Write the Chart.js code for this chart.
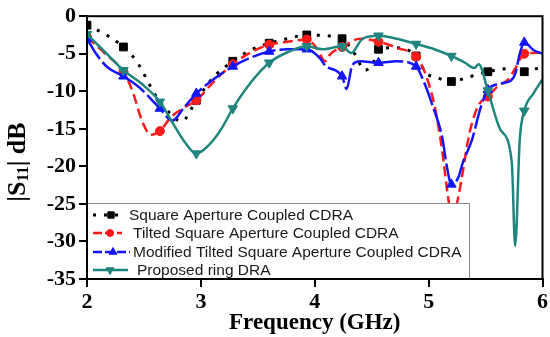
<!DOCTYPE html>
<html>
<head>
<meta charset="utf-8">
<script src="https://cdn.jsdelivr.net/npm/chart.js@4.4.1/dist/chart.umd.min.js"></script>
<style>
  html, body { margin: 0; padding: 0; background: #fff; }
  #wrap { width: 550px; height: 337px; position: relative; }
</style>
</head>
<body>
<div id="wrap"><canvas id="c" width="550" height="337"></canvas></div>
<script>
// Return loss |S11| (dB) versus frequency (GHz) for four antenna designs
const seriesNames = [
  'Square Aperture Coupled CDRA',
  'Tilted Square Aperture Coupled CDRA',
  'Modified Tilted Square Aperture Coupled CDRA',
  'Proposed ring DRA'
];

const squareFreq = [2.00, 2.16, 2.32, 2.44, 2.60, 2.72, 2.83, 2.96, 3.10, 3.28, 3.44, 3.60, 3.76, 3.93, 4.10, 4.24, 4.35, 4.44, 4.52, 4.56, 4.72, 4.89, 4.98, 5.06, 5.20, 5.35, 5.52, 5.70, 5.84, 6.00];
const squareS11  = [-1.2, -2.4, -4.1, -6.1, -10.5, -12.8, -14.0, -11.2, -8.3, -6.0, -4.5, -3.6, -3.0, -2.5, -2.6, -3.0, -5.0, -7.2, -6.0, -4.4, -4.2, -5.3, -7.6, -8.1, -8.7, -8.1, -7.4, -7.0, -7.4, -6.7];

const tiltedFreq = [2.00, 2.16, 2.32, 2.40, 2.48, 2.56, 2.64, 2.74, 2.85, 2.96, 3.12, 3.28, 3.44, 3.60, 3.76, 3.93, 4.02, 4.09, 4.14, 4.24, 4.40, 4.56, 4.72, 4.89, 4.98, 5.06, 5.12, 5.17, 5.20, 5.24, 5.28, 5.36, 5.44, 5.52, 5.61, 5.70, 5.76, 5.84, 5.92, 6.00];
const tiltedS11  = [-2.8, -5.0, -7.4, -10.0, -13.8, -15.8, -15.3, -13.4, -12.2, -11.2, -8.6, -6.4, -4.8, -3.8, -3.4, -3.1, -4.3, -6.0, -5.0, -4.1, -3.0, -3.4, -4.2, -5.4, -8.0, -12.5, -18.0, -24.0, -26.5, -25.5, -22.5, -15.5, -11.8, -10.7, -9.3, -8.4, -7.0, -5.0, -4.9, -4.8];

const modifiedFreq = [2.00, 2.08, 2.18, 2.32, 2.46, 2.56, 2.64, 2.75, 2.85, 2.96, 3.12, 3.28, 3.44, 3.60, 3.76, 3.93, 4.04, 4.10, 4.18, 4.24, 4.28, 4.33, 4.40, 4.56, 4.72, 4.89, 4.96, 5.03, 5.12, 5.16, 5.20, 5.26, 5.30, 5.38, 5.46, 5.52, 5.62, 5.72, 5.76, 5.80, 5.84, 5.92, 6.00];
const modifiedS11  = [-3.0, -5.0, -6.8, -8.0, -9.5, -11.0, -12.3, -13.9, -12.2, -10.3, -8.3, -6.7, -5.5, -4.7, -4.4, -4.4, -5.5, -6.7, -7.2, -8.0, -9.7, -6.5, -6.0, -6.2, -6.0, -6.7, -8.8, -11.7, -16.2, -20.0, -22.4, -21.5, -19.5, -16.5, -12.0, -9.8, -9.0, -8.6, -7.7, -5.0, -3.5, -4.5, -5.0];

const ringFreq = [2.00, 2.16, 2.32, 2.48, 2.64, 2.76, 2.86, 2.96, 3.08, 3.18, 3.28, 3.44, 3.60, 3.76, 3.93, 4.07, 4.24, 4.32, 4.42, 4.56, 4.72, 4.89, 5.05, 5.20, 5.32, 5.40, 5.44, 5.52, 5.63, 5.73, 5.76, 5.80, 5.84, 5.92, 6.00];
const ringS11  = [-2.4, -4.8, -7.2, -9.0, -11.4, -14.4, -16.8, -18.3, -17.0, -15.0, -12.3, -8.8, -6.2, -4.8, -4.0, -4.4, -4.0, -4.9, -3.0, -2.6, -3.0, -3.7, -4.4, -5.3, -6.2, -6.9, -6.4, -9.9, -15.1, -19.4, -30.6, -16.5, -12.6, -10.3, -8.4];

// frequencies at which symbols are placed along each trace
const markerFreq = [2.00, 2.32, 2.64, 2.96, 3.28, 3.60, 3.93, 4.24, 4.56, 4.89, 5.20, 5.52, 5.84];

const xTicks = [2, 3, 4, 5, 6];
const yTicks = [0, -5, -10, -15, -20, -25, -30, -35];

const toPoints = (fs, vs) => fs.map((f, i) => ({ x: f, y: vs[i] }));

const styles = [
  { color: '#000000', dash: [3, 8], width: 3, point: 'rect', radius: 5.5, rotation: 0, order: 3 },
  { color: '#ff1a1a', dash: [10, 5], width: 2.5, point: 'circle', radius: 4.5, rotation: 0, order: 2 },
  { color: '#1414ff', dash: [24, 4], width: 2.5, point: 'triangle', radius: 5.5, rotation: 0, order: 1 },
  { color: '#1f857f', dash: [], width: 2.5, point: 'triangle', radius: 5.5, rotation: 180, order: 0 }
];

const seriesData = [
  toPoints(squareFreq, squareS11),
  toPoints(tiltedFreq, tiltedS11),
  toPoints(modifiedFreq, modifiedS11),
  toPoints(ringFreq, ringS11)
];

const datasets = seriesData.map((pts, i) => {
  const s = styles[i];
  return {
    label: seriesNames[i],
    data: pts,
    borderColor: s.color,
    backgroundColor: s.color,
    borderWidth: s.width,
    borderDash: s.dash,
    cubicInterpolationMode: 'monotone',
    pointStyle: s.point,
    rotation: s.rotation,
    pointBorderWidth: 1,
    pointRadius: ctx => (ctx.raw && markerFreq.includes(ctx.raw.x)) ? s.radius : 0,
    pointHoverRadius: 0,
    order: s.order
  };
});

const serifBold = { family: "'Liberation Serif', 'Times New Roman', serif", weight: 'bold' };

// Legend box in the lower-left corner of the plot, plus the closed frame
const legendFrame = {
  id: 'legendFrame',
  afterDatasetsDraw(chart) {
    const { ctx, chartArea: a } = chart;
    ctx.save();
    const bx = a.left, by = 203, bw = 470 - a.left, bh = a.bottom - 203;
    ctx.fillStyle = '#ffffff';
    ctx.fillRect(bx, by, bw, bh);
    ctx.strokeStyle = '#8c8c8c';
    ctx.lineWidth = 1;
    ctx.strokeRect(bx + 0.5, by + 0.5, bw - 1, bh - 1);

    const rows = [215, 233, 252, 270];
    const textX = [129, 133, 133, 137];
    const lineEnd = [122, 122, 130, 128];
    const markX = [111, 110, 113, 110];
    ctx.font = "15.5px 'Liberation Sans', Arial, sans-serif";
    ctx.textBaseline = 'middle';
    rows.forEach((y, i) => {
      const s = styles[i];
      ctx.strokeStyle = s.color;
      ctx.lineWidth = s.width;
      ctx.setLineDash(i === 0 ? [3, 8] : (i === 3 ? [] : [9, 3]));
      ctx.beginPath();
      ctx.moveTo(93, y);
      ctx.lineTo(lineEnd[i], y);
      ctx.stroke();
      ctx.setLineDash([]);
      ctx.fillStyle = s.color;
      ctx.lineWidth = 1;
      Chart.helpers.drawPoint(ctx, { pointStyle: s.point, radius: s.radius - 1, rotation: s.rotation, borderWidth: 1 }, markX[i], y);
      ctx.fillStyle = '#1a1a1a';
      ctx.fillText(seriesNames[i], textX[i], y + 1);
    });

    ctx.strokeStyle = '#000';
    ctx.lineWidth = 2;
    ctx.strokeRect(a.left, a.top, a.right - a.left, a.bottom - a.top);
    ctx.restore();
  },
  afterDraw(chart) {
    const { ctx } = chart;
    ctx.save();
    ctx.fillStyle = '#000';
    // y-axis title with subscript
    ctx.translate(18, 162);
    ctx.rotate(-Math.PI / 2);
    ctx.textBaseline = 'middle';
    const big = "bold 26px 'Liberation Serif', 'Times New Roman', serif";
    const small = "bold 16px 'Liberation Serif', 'Times New Roman', serif";
    const parts = [['|S', big, 0], ['11', small, 6], ['| dB', big, 0]];
    let total = 0;
    parts.forEach(p => { ctx.font = p[1]; total += ctx.measureText(p[0]).width; });
    let x = -total / 2;
    parts.forEach(p => {
      ctx.font = p[1];
      ctx.textAlign = 'left';
      ctx.fillText(p[0], x, p[2]);
      x += ctx.measureText(p[0]).width;
    });
    ctx.restore();
  }
};

new Chart(document.getElementById('c'), {
  type: 'line',
  data: { datasets },
  plugins: [legendFrame],
  options: {
    responsive: false,
    animation: false,
    events: [],
    layout: { padding: { top: 16, right: 6, left: 0, bottom: 0 } },
    plugins: {
      legend: { display: false },
      tooltip: { enabled: false }
    },
    scales: {
      x: {
        type: 'linear',
        min: 2, max: 6,
        afterFit: s => { s.height = 58; },
        afterBuildTicks: s => { s.ticks = xTicks.map(v => ({ value: v })); },
        ticks: { font: { ...serifBold, size: 22 }, color: '#000', padding: 2 },
        grid: { drawOnChartArea: false, drawTicks: true, tickLength: 8, color: '#000', lineWidth: 2 },
        border: { color: '#000', width: 2 },
        title: {
          display: true,
          text: 'Frequency (GHz)',
          color: '#000',
          font: { ...serifBold, size: 23 },
          padding: { top: 0, bottom: 0 }
        }
      },
      y: {
        type: 'linear',
        min: -35, max: 0,
        afterFit: s => { s.width = 87; },
        afterBuildTicks: s => { s.ticks = yTicks.map(v => ({ value: v })); },
        ticks: { font: { ...serifBold, size: 22 }, color: '#000', padding: 3 },
        grid: { drawOnChartArea: false, drawTicks: true, tickLength: 8, color: '#000', lineWidth: 2 },
        border: { color: '#000', width: 2 }
      }
    }
  }
});
</script>
</body>
</html>
